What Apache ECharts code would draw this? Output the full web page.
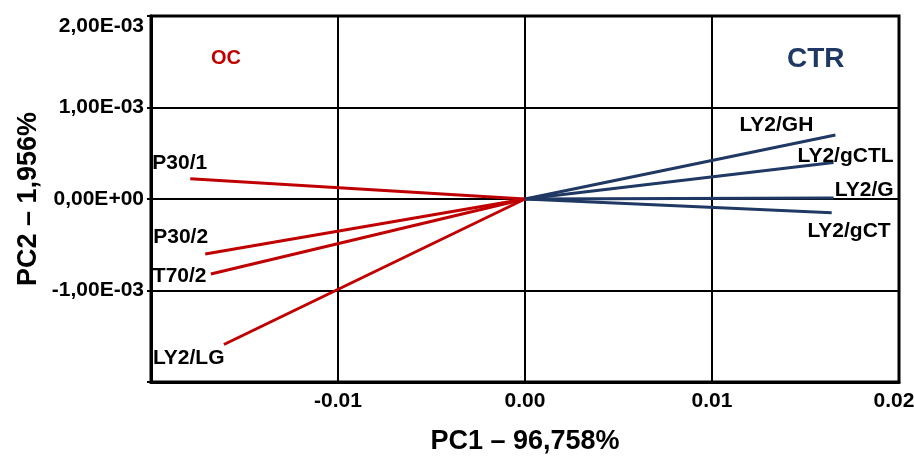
<!DOCTYPE html>
<html><head><meta charset="utf-8">
<script src="https://cdn.jsdelivr.net/npm/echarts@6/dist/echarts.min.js"></script>
<style>html,body{margin:0;padding:0;background:#fff}#c{width:914px;height:457px}</style>
</head><body><div id="c"></div>
<script>
// ---- data ----
const ocNames = ['P30/1', 'P30/2', 'T70/2', 'LY2/LG'];
const ocPC1 = [-0.0179, -0.0171, -0.0168, -0.0161];
const ocPC2 = [0.00022, -0.00060, -0.00082, -0.00159];
const ctrNames = ['LY2/GH', 'LY2/gCTL', 'LY2/G', 'LY2/gCT'];
const ctrPC1 = [0.0166, 0.0165, 0.0165, 0.0164];
const ctrPC2 = [0.00070, 0.00040, 0.00001, -0.00015];
const xTickLabels = ['', '-0.01', '0.00', '0.01', '0.02'];
const yTickLabels = ['', '-1,00E-03', '0,00E+00', '1,00E-03', '2,00E-03'];
const groupNames = ['OC', 'CTR'];

// ---- style ----
const RED = '#C00000', BLUE = '#1F3864';
const FONT = '"Liberation Sans", Arial, sans-serif';
const ocLabelStyle = [
  {dx: -38, dy: -16, align: 'left'},
  {dx: -52, dy: -17, align: 'left'},
  {dx: -58, dy: 2, align: 'left'},
  {dx: -71, dy: 14, align: 'left'}
];
const ctrLabelStyle = [
  {dx: -96, dy: -10, align: 'left'},
  {dx: 60, dy: -6, align: 'right'},
  {dx: 60, dy: -8, align: 'right'},
  {dx: 59, dy: 18, align: 'right'}
];

const X_MIN = -0.02, X_INT = 0.01, Y_MIN = -0.002, Y_INT = 0.001;

function vectorSeries(names, xs, ys, color) {
  return names.map((n, i) => ({
    type: 'line', name: n, symbol: 'none', silent: true, z: 3,
    lineStyle: {color: color, width: 3},
    data: [[0, 0], [xs[i], ys[i]]]
  }));
}
function labelSeries(names, xs, ys, styles) {
  return {
    type: 'scatter', symbolSize: 0, silent: true, z: 4,
    itemStyle: {opacity: 1},
    data: names.map((n, i) => ({
      name: n, value: [xs[i], ys[i]],
      label: {show: true, position: [0, 0], offset: [styles[i].dx, styles[i].dy],
              align: styles[i].align, verticalAlign: 'middle'}
    })),
    label: {show: true, formatter: p => p.name, color: '#000', opacity: 1, fontFamily: FONT,
            fontWeight: 'bold', fontSize: 21}
  };
}

const chart = echarts.init(document.getElementById('c'), null, {renderer: 'canvas'});
chart.setOption({
  animation: false,
  backgroundColor: '#fff',
  title: [
    {text: groupNames[0], left: 206, top: 43,
     textStyle: {color: RED, fontFamily: FONT, fontWeight: 'bold', fontSize: 20}},
    {text: groupNames[1], left: 782, top: 40,
     textStyle: {color: BLUE, fontFamily: FONT, fontWeight: 'bold', fontSize: 28}}
  ],
  grid: {left: 151, right: 15, top: 16, bottom: 75, outerBoundsMode: 'none',
         show: true, borderColor: '#000', borderWidth: 3},
  xAxis: {
    type: 'value', min: X_MIN, max: 0.02, interval: X_INT,
    name: 'PC1 – 96,758%', nameLocation: 'middle', nameGap: 46, nameMoveOverlap: false,
    nameTextStyle: {fontFamily: FONT, fontWeight: 'bold', fontSize: 27, color: '#000'},
    axisLine: {show: true, onZero: false, lineStyle: {color: '#000', width: 3}},
    axisTick: {show: false},
    splitLine: {show: true, lineStyle: {color: '#000', width: 2}},
    axisLabel: {
      margin: 9, fontFamily: FONT, fontWeight: 'bold', fontSize: 21, color: '#000',
      formatter: v => {
        const i = Math.round((v - X_MIN) / X_INT);
        const t = xTickLabels[i] || '';
        return i === xTickLabels.length - 1 && t ? '{r|' + t + '}' : t;
      },
      rich: {r: {fontFamily: FONT, fontWeight: 'bold', fontSize: 21, color: '#000', padding: [0, 10, 0, 0]}}
    }
  },
  yAxis: {
    type: 'value', min: Y_MIN, max: 0.002, interval: Y_INT,
    name: 'PC2 – 1,956%', nameLocation: 'middle', nameGap: 109, nameMoveOverlap: false,
    nameTextStyle: {fontFamily: FONT, fontWeight: 'bold', fontSize: 27, color: '#000'},
    axisLine: {show: true, onZero: false, lineStyle: {color: '#000', width: 3}},
    axisTick: {show: true, length: 4, lineStyle: {color: '#000', width: 2}},
    splitLine: {show: true, lineStyle: {color: '#000', width: 2}},
    axisLabel: {
      margin: 7, fontFamily: FONT, fontWeight: 'bold', fontSize: 21, color: '#000',
      verticalAlignMaxLabel: 'top',
      formatter: v => yTickLabels[Math.round((v - Y_MIN) / Y_INT)] || ''
    }
  },
  series: [].concat(
    vectorSeries(ocNames, ocPC1, ocPC2, RED),
    vectorSeries(ctrNames, ctrPC1, ctrPC2, BLUE),
    [labelSeries(ocNames, ocPC1, ocPC2, ocLabelStyle),
     labelSeries(ctrNames, ctrPC1, ctrPC2, ctrLabelStyle)]
  )
});
</script></body></html>
